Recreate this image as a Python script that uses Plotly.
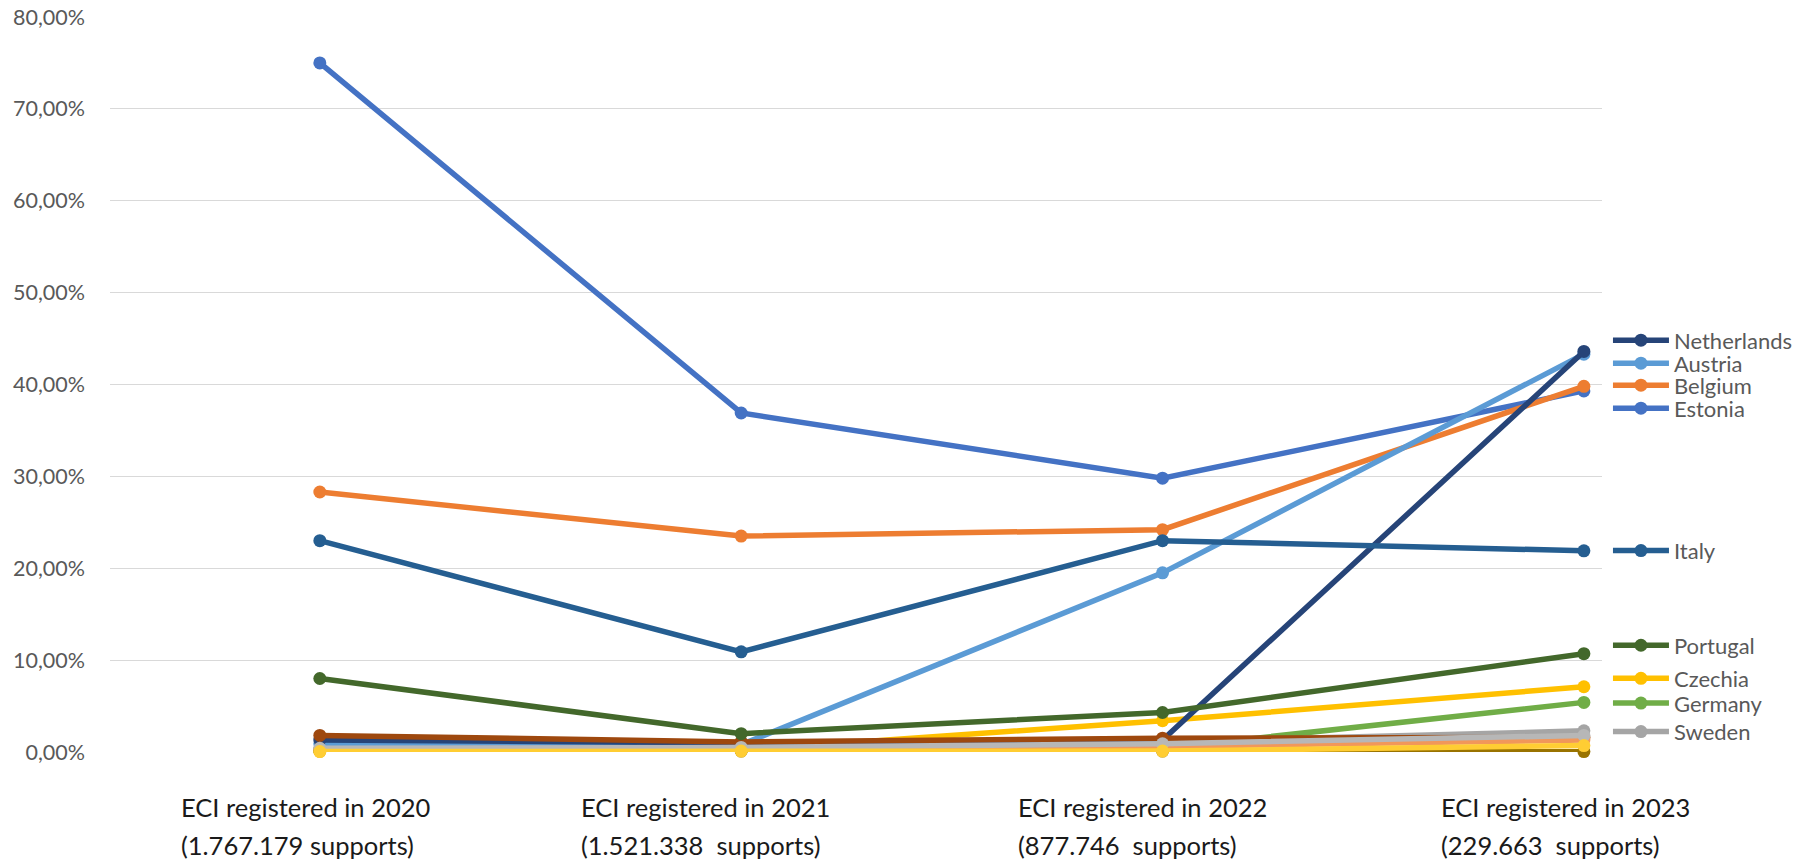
import plotly.graph_objects as go

# ---------------- data ----------------
categories = [0, 1, 2, 3]
cat_line1 = ["ECI registered in 2020", "ECI registered in 2021",
             "ECI registered in 2022", "ECI registered in 2023"]
cat_line2 = ["(1.767.179 supports)", "(1.521.338  supports)",
             "(877.746  supports)", "(229.663  supports)"]

# labelled series (values in %)
estonia = [75.0, 36.9, 29.8, 39.3]
belgium = [28.3, 23.5, 24.2, 39.8]
sweden = [0.3, 0.6, 1.1, 2.3]
czechia = [0.1, 0.2, 3.4, 7.1]
austria = [0.9, 0.8, 19.5, 43.3]
germany = [0.2, 0.2, 0.4, 5.4]
netherlands = [1.3, 1.0, 1.3, 43.6]
italy = [23.0, 10.9, 23.0, 21.9]
portugal = [8.0, 2.0, 4.3, 10.7]

# unlabelled small series (values in %)
other_brown = [1.8, 1.1, 1.5, 1.6]
other_darkgold = [0.1, 0.1, 0.1, 0.05]
other_lightorange = [0.3, 0.4, 0.6, 1.3]
other_lightgray = [0.4, 0.5, 0.9, 1.8]
other_lightgold = [0.05, 0.1, 0.1, 0.7]

tick_vals = [0, 10, 20, 30, 40, 50, 60, 70, 80]
tick_text = ["0,00%", "10,00%", "20,00%", "30,00%", "40,00%",
             "50,00%", "60,00%", "70,00%", "80,00%"]

# --------------- styling ---------------
FONT = "Lato"
series = [
    # name, values, color, label position (in % units) or None
    ("Estonia", estonia, "#4472C4", 37.4),
    ("Belgium", belgium, "#ED7D31", 39.9),
    ("Sweden", sweden, "#A5A5A5", 2.2),
    ("Czechia", czechia, "#FFC000", 8.0),
    ("Austria", austria, "#5B9BD5", 42.3),
    ("Germany", germany, "#70AD47", 5.3),
    ("Netherlands", netherlands, "#264478", 44.8),
    ("other1", other_brown, "#9E480E", None),
    ("other2", other_darkgold, "#997300", None),
    ("Italy", italy, "#255E91", 21.9),
    ("Portugal", portugal, "#43682B", 11.6),
    ("other3", other_lightorange, "#F1975A", None),
    ("other4", other_lightgray, "#B7B7B7", None),
    ("other5", other_lightgold, "#FFCD33", None),
]

YMAX = 80
fig = go.Figure()
layout_legends = {}
k = 0
for name, vals, color, lab_y in series:
    kw = dict(showlegend=False)
    if lab_y is not None:
        k += 1
        lid = "legend" if k == 1 else f"legend{k}"
        kw = dict(showlegend=True, legend=lid)
        layout_legends[lid] = dict(
            x=1.004, xanchor="left", y=lab_y / YMAX, yanchor="middle",
            bgcolor="rgba(0,0,0,0)", borderwidth=0,
            font=dict(family=FONT, size=22, color="#595959"),
            itemwidth=56,
        )
    fig.add_trace(go.Scatter(
        x=categories, y=vals, name=name, mode="lines+markers",
        line=dict(color=color, width=5.5),
        marker=dict(color=color, size=13),
        cliponaxis=False, **kw,
    ))

annotations = []
left_shift = [-141, -162, -147, -145]
for i, c in enumerate(categories):
    for txt, ys in ((cat_line1[i], -55), (cat_line2[i], -93)):
        annotations.append(dict(
            x=c, xref="x", y=0, yref="paper", text=txt, showarrow=False,
            xanchor="left", yanchor="middle", xshift=left_shift[i], yshift=ys,
            font=dict(family=FONT, size=25.5, color="#1a1a1a"),
        ))

fig.update_layout(
    width=1801, height=862,
    margin=dict(l=110, r=199, t=17, b=110, pad=0, autoexpand=False),
    paper_bgcolor="white", plot_bgcolor="white",
    font=dict(family=FONT, color="#595959"),
    annotations=annotations,
    **layout_legends,
)
fig.update_xaxes(range=[-0.498, 3.043], showticklabels=False, showgrid=False,
                 zeroline=False, showline=False, ticks="")
fig.update_yaxes(range=[0, YMAX], tickvals=tick_vals, ticktext=tick_text,
                 showgrid=True, gridcolor="#D9D9D9", gridwidth=1,
                 zeroline=False, showline=False, ticks="",
                 tickfont=dict(family=FONT, size=21.5, color="#595959"),
                 ticklabelstandoff=24)

fig.write_html("out.html",
               config={"displayModeBar": False},
               post_script="document.body.style.margin='0';"
                           "document.body.style.overflow='hidden';")
